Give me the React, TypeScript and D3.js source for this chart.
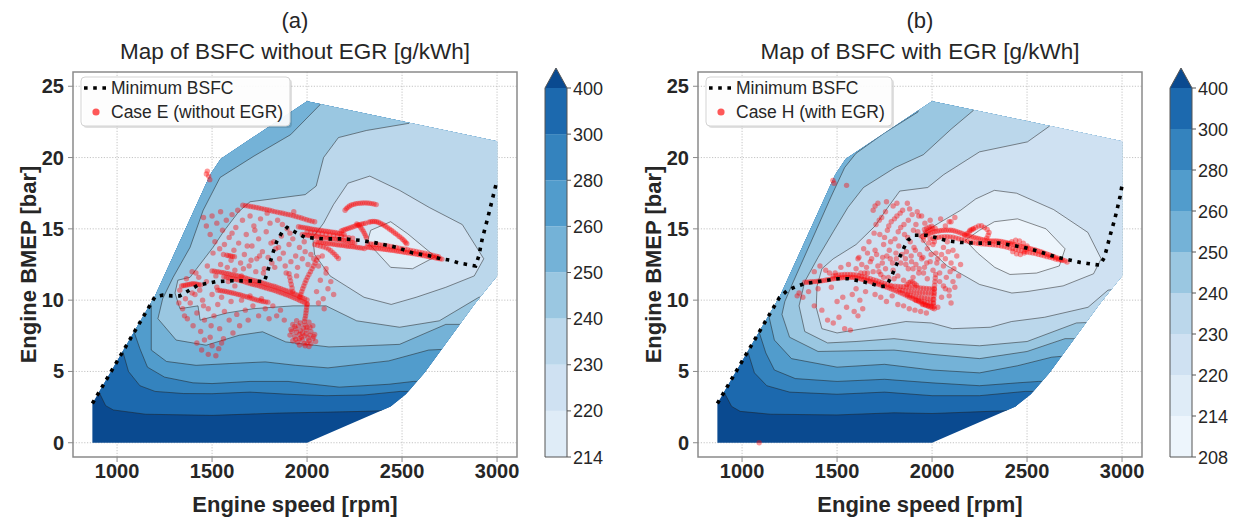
import React from "react";
import * as d3 from "d3";

type P = [number, number];

const speedTicks = [1000, 1500, 2000, 2500, 3000];
const bmepTicks = [0, 5, 10, 15, 20, 25];
const levelsA = [214, 220, 230, 240, 250, 260, 280, 300, 400];
const levelsB = [208, 214, 220, 230, 240, 250, 260, 280, 300, 400];

// operating envelope of the map [rpm, bar]
const envelope: P[] = [[870,0],[870,2.75],[1200,10.3],[1490,18.8],[1545,19.9],[2000,23.95],[3000,21.15],[3000,11.7],[2880,9.7],[2620,4.95],[2520,3.4],[2440,2.55],[2000,0]];

// ---- Map (a): regions where BSFC < level ----
const isoA400: P[] = [[700,30],[700,4.6],[860,4.6],[905,3.55],[940,2.6],[980,2.3],[1150,2.0],[1500,1.92],[1850,2.08],[2120,2.15],[2300,2.2],[2520,2.3],[3300,2.3],[3300,30]];
const isoA300: P[] = [[700,30],[700,7.5],[1000,7.5],[1030,6.4],[1060,5.0],[1120,4.0],[1200,3.6],[1350,3.45],[1500,3.44],[1700,3.55],[1900,3.4],[2100,3.3],[2300,3.35],[2490,3.6],[2700,3.6],[3300,3.6],[3300,30]];
const isoA280: P[] = [[700,30],[700,9],[1060,9],[1090,7.75],[1120,6.6],[1160,5.3],[1250,4.6],[1400,4.2],[1500,4.15],[1700,4.3],[1900,4.3],[2170,3.9],[2430,4.1],[2560,4.3],[2750,4.3],[3300,4.3],[3300,30]];
const isoA260: P[] = [[700,30],[700,10.5],[1150,10.5],[1180,9.6],[1180,6.5],[1260,5.7],[1416,5.43],[1590,5.55],[1780,5.67],[1940,5.43],[2110,5.25],[2430,5.74],[2640,6.5],[2800,6.6],[3300,6.6],[3300,30]];
const isoA250: P[] = [[2080,30],[2080,24.5],[2068,23.7],[1913,21.6],[1720,20.1],[1542,18.6],[1453,16.3],[1384,13.7],[1295,11.6],[1240,10.1],[1215,8.7],[1311,7.2],[1469,6.84],[1643,7.54],[1766,7.78],[1888,7.07],[2115,6.72],[2300,6.8],[2487,6.9],[2730,8.3],[2900,8.3],[3300,8.3],[3300,30]];
const isoA240: P[] = [[2700,30],[2650,24.5],[2536,22.4],[2313,21.9],[2165,21.4],[2087,20.0],[2048,18.0],[1990,17.4],[1700,16.9],[1640,16.2],[1560,14.8],[1505,13.7],[1384,11.6],[1320,11.4],[1305,10.5],[1331,9.4],[1426,9.6],[1437,8.6],[1578,9.1],[1716,9.4],[1926,9.6],[2100,9.6],[2261,8.55],[2487,8.1],[2696,8.55],[2904,10.2],[3050,10.5],[3300,10.5],[3300,30]];
const isoA230: P[] = [[2215,18.2],[2330,18.7],[2487,17.7],[2643,16.5],[2817,15.3],[2930,12.9],[2880,11.7],[2730,10.9],[2574,10.2],[2443,9.7],[2300,10.2],[2121,11.7],[2040,13.2],[2030,14.4],[2087,15.4],[2139,16.7]];
const isoA220: P[] = [[2320,14.2],[2335,14.9],[2440,15.5],[2530,14.65],[2675,13.05],[2555,12.2],[2440,12.3],[2330,13.9]];

// ---- Map (b) ----
const isoB400: P[] = [[700,30],[700,4.6],[860,4.6],[905,3.55],[945,2.55],[990,2.2],[1150,2.0],[1500,1.95],[1800,2.1],[2000,2.05],[2300,2.2],[2520,2.3],[3300,2.3],[3300,30]];
const isoB300: P[] = [[700,30],[700,7.5],[1000,7.5],[1030,6.4],[1065,4.9],[1130,4.0],[1250,3.55],[1500,3.4],[1750,3.55],[2000,3.3],[2250,3.3],[2490,3.6],[2700,3.6],[3300,3.6],[3300,30]];
const isoB280: P[] = [[700,30],[700,9],[1060,9],[1090,7.75],[1125,6.3],[1170,5.1],[1280,4.5],[1500,4.3],[1750,4.45],[2000,4.2],[2250,4.0],[2450,4.2],[2560,4.3],[2750,4.3],[3300,4.3],[3300,30]];
const isoB260: P[] = [[700,30],[700,10],[1110,10],[1140,8.95],[1170,7.2],[1260,5.9],[1500,5.3],[1750,5.5],[2000,5.1],[2250,4.9],[2450,5.4],[2630,6.0],[2800,6.2],[3300,6.2],[3300,30]];
const isoB250: P[] = [[1940,30],[1940,24.5],[1926,23.2],[1747,21.7],[1600,20.3],[1540,19.3],[1470,17.3],[1400,15.2],[1330,13.1],[1270,11.3],[1225,9.9],[1210,9.0],[1250,7.4],[1400,6.4],[1600,6.45],[1800,6.5],[2000,6.2],[2250,5.9],[2500,6.4],[2700,7.3],[2900,7.3],[3300,7.3],[3300,30]];
const isoB240: P[] = [[2230,30],[2230,24.5],[2217,23.3],[2101,22.0],[1954,20.2],[1806,19.3],[1639,17.9],[1557,16.5],[1480,14.8],[1400,13.0],[1330,11.3],[1300,9.6],[1330,7.8],[1450,7.0],[1600,7.1],[1800,7.3],[2000,7.0],[2250,6.8],[2500,7.1],[2760,8.4],[2950,8.5],[3300,8.5],[3300,30]];
const isoB230: P[] = [[2700,30],[2680,23.5],[2618,22.2],[2502,21.1],[2250,20.4],[2061,18.8],[1977,17.9],[1830,17.65],[1767,16.5],[1700,15.2],[1600,13.9],[1480,12.9],[1420,12.2],[1395,11.0],[1390,9.5],[1420,8.0],[1500,7.7],[1684,8.1],[1862,8.5],[1996,8.4],[2107,8.0],[2307,8.1],[2418,8.5],[2592,8.8],[2821,9.5],[2926,10.7],[3100,11],[3300,11],[3300,30]];
const isoB220: P[] = [[2328,17.7],[2445,17.5],[2640,16.35],[2820,14.75],[2890,12.9],[2850,11.85],[2690,11.0],[2500,10.6],[2420,10.5],[2250,11.1],[2080,12.4],[1990,13.5],[1935,14.5],[2010,15.2],[2150,16.3],[2230,17.1]];
const isoB214: P[] = [[2175,14.2],[2250,14.9],[2328,15.5],[2450,15.7],[2600,15.0],[2700,13.6],[2670,12.4],[2550,11.9],[2410,11.8],[2330,12.3],[2240,13.3]];

// ---- Minimum BSFC lines ----
const minA: P[] = [[870,2.75],[1200,10.25],[1241,10.35],[1290,10.3],[1330,10.3],[1381,10.7],[1425,11.05],[1521,11.3],[1608,11.36],[1700,11.35],[1775,11.3],[1790,11.9],[1805,12.6],[1820,13.3],[1840,14.1],[1870,14.8],[1895,15.1],[1947,14.7],[1989,14.4],[2084,14.3],[2189,14.3],[2279,14.2],[2368,14.0],[2473,13.7],[2558,13.3],[2647,13.1],[2704,12.9],[2753,12.8],[2800,12.6],[2887,12.4],[2904,13.1],[2922,14.3],[2948,15.6],[2974,17.0],[2995,18.15]];
const minB: P[] = [[870,2.75],[1197,10.2],[1240,10.7],[1284,10.95],[1326,11.15],[1373,11.25],[1420,11.35],[1507,11.5],[1560,11.5],[1618,11.35],[1680,11.15],[1729,10.95],[1760,11.0],[1784,11.6],[1810,12.4],[1829,13.0],[1853,13.7],[1873,14.2],[1907,14.55],[1973,14.55],[2030,14.35],[2084,14.15],[2150,14.05],[2218,14.0],[2290,14.0],[2351,14.0],[2420,13.85],[2484,13.7],[2540,13.5],[2596,13.27],[2660,13.0],[2729,12.8],[2780,12.65],[2818,12.57],[2884,12.45],[2907,13.0],[2925,13.9],[2940,14.67],[2960,15.6],[2973,16.3],[2990,17.3],[3000,18.06]];

// ---- Case E (without EGR) operating points ----
const caseE: P[] = [
[1470,18.85],[1475,19.05],[1482,18.7],[1488,18.45],
[1662,16.66],[1676,16.63],[1690,16.6],[1704,16.57],[1718,16.53],[1732,16.5],[1746,16.46],[1760,16.42],[1774,16.38],[1788,16.34],[1802,16.3],[1816,16.25],[1830,16.21],[1844,16.17],[1858,16.13],[1872,16.09],[1886,16.05],[1900,16.01],[1914,15.97],[1928,15.92],[1942,15.87],[1956,15.82],[1970,15.76],[1984,15.7],[1998,15.64],[2012,15.59],[2026,15.54],[2040,15.5],
[2200,16.3],[2207,16.42],[2215,16.52],[2224,16.6],[2234,16.67],[2245,16.72],[2256,16.76],[2268,16.79],[2280,16.8],[2292,16.81],[2304,16.82],[2316,16.81],[2328,16.8],[2340,16.77],[2352,16.74],[2364,16.7],
[1955,15.15],[1967,15.12],[1979,15.1],[1991,15.07],[2003,15.04],[2015,15.01],[2027,14.98],[2039,14.96],[2051,14.93],[2063,14.91],[2075,14.88],[2087,14.86],[2099,14.84],[2111,14.81],[2123,14.79],[2135,14.76],[2147,14.74],[2159,14.71],[2171,14.68],[2183,14.65],[2195,14.61],
[2000,14.8],[2020,14.77],[2040,14.73],[2060,14.69],[2080,14.66],[2100,14.62],[2120,14.58],[2140,14.54],[2160,14.5],[2180,14.46],[2200,14.42],[2220,14.38],[2240,14.34],
[1975,14.6],[1987,14.58],[1999,14.56],[2011,14.53],[2023,14.51],[2035,14.48],[2047,14.46],[2059,14.44],[2071,14.42],[2083,14.39],[2095,14.37],[2107,14.35],[2119,14.32],[2131,14.3],[2143,14.28],[2155,14.26],[2167,14.23],[2179,14.21],[2191,14.18],[2203,14.15],[2215,14.12],[2227,14.08],[2239,14.05],[2251,14.02],
[2050,14.1],[2062,14.07],[2074,14.05],[2086,14.03],[2098,14.0],[2110,13.98],[2122,13.96],[2134,13.94],[2146,13.91],[2158,13.89],[2170,13.87],[2182,13.85],[2194,13.83],[2206,13.8],[2218,13.78],[2230,13.76],[2242,13.74],[2254,13.72],[2266,13.69],[2278,13.67],[2290,13.65],[2302,13.62],
[2180,14.85],[2190,14.9],[2200,14.95],[2210,15.0],[2220,15.05],[2231,15.1],[2242,15.15],[2253,15.2],[2264,15.25],[2275,15.29],[2286,15.33],[2297,15.37],[2308,15.4],
[2325,15.47],[2335,15.5],[2345,15.52],[2355,15.52],[2365,15.5],[2375,15.46],[2385,15.4],[2395,15.33],[2405,15.25],[2415,15.16],[2425,15.07],[2435,14.98],[2445,14.88],[2455,14.78],[2465,14.68],[2475,14.58],[2485,14.47],[2495,14.37],[2504,14.26],[2512,14.15],[2519,14.05],[2525,13.95],
[2262,15.35],[2272,15.25],[2281,15.12],[2289,14.98],[2296,14.84],[2302,14.68],[2308,14.52],[2313,14.36],
[2040,13.9],[2055,13.85],[2070,13.8],[2085,13.74],[2100,13.68],[2113,13.58],[2125,13.46],[2136,13.33],[2146,13.2],[2156,13.06],[2165,12.92],
[2315,13.72],[2327,13.7],[2339,13.68],[2351,13.66],[2363,13.64],[2375,13.62],[2387,13.6],[2399,13.58],[2411,13.56],[2423,13.54],[2435,13.52],[2447,13.5],[2459,13.48],[2471,13.45],[2483,13.43],[2495,13.4],[2507,13.38],[2519,13.35],[2531,13.32],[2543,13.3],[2555,13.27],[2567,13.25],[2579,13.22],[2591,13.19],[2603,13.16],[2615,13.12],[2627,13.09],[2639,13.06],[2651,13.03],[2663,13.0],[2675,12.97],[2687,12.94],[2699,12.91],[2710,12.88],
[2320,13.95],[2335,13.94],[2350,13.92],[2365,13.9],[2380,13.88],[2395,13.86],[2410,13.83],[2425,13.8],[2440,13.76],[2455,13.72],[2470,13.69],[2485,13.65],[2500,13.61],[2515,13.57],[2530,13.53],[2545,13.49],[2560,13.45],[2575,13.41],[2590,13.37],[2605,13.33],[2620,13.29],[2635,13.24],[2650,13.19],[2665,13.14],[2680,13.09],[2692,13.05],
[1500,12.05],[1512,12.03],[1525,12.0],[1537,11.98],[1550,11.95],[1562,11.92],[1575,11.88],[1587,11.85],[1600,11.8],[1612,11.77],[1625,11.73],[1637,11.7],[1650,11.65],[1662,11.6],[1675,11.55],[1687,11.5],[1700,11.45],[1712,11.4],[1725,11.36],[1737,11.32],[1750,11.27],[1762,11.22],[1775,11.17],[1787,11.12],[1800,11.07],[1812,11.02],[1825,10.97],[1837,10.92],[1850,10.86],[1862,10.8],[1875,10.74],[1887,10.68],[1900,10.62],[1912,10.55],[1925,10.48],[1937,10.41],[1950,10.34],[1962,10.26],[1975,10.18],[1987,10.1],[2000,10.02],
[1562,11.64],[1575,11.6],[1587,11.57],[1600,11.52],[1612,11.49],[1625,11.45],[1637,11.42],[1650,11.37],[1662,11.32],[1675,11.27],[1687,11.22],[1700,11.17],[1712,11.12],[1725,11.08],[1737,11.04],[1750,10.99],[1762,10.94],[1775,10.89],[1787,10.84],[1800,10.79],[1812,10.74],[1825,10.69],[1837,10.64],[1850,10.58],[1862,10.52],[1875,10.46],[1887,10.4],[1900,10.34],[1912,10.27],[1925,10.2],[1937,10.13],[1950,10.06],[1962,9.98],[1975,9.9],[1987,9.83],[2000,9.75],
[1530,10.7],[1542,10.68],[1554,10.65],[1566,10.62],[1578,10.59],[1590,10.55],[1602,10.52],[1614,10.48],[1626,10.44],[1638,10.4],[1650,10.36],[1662,10.31],[1674,10.26],[1686,10.22],[1698,10.17],[1710,10.12],[1722,10.07],[1734,10.02],[1746,9.98],[1758,9.94],[1770,9.9],[1782,9.88],[1794,9.86],
[1340,11.0],[1350,11.03],[1360,11.05],[1370,11.08],[1380,11.1],[1390,11.13],[1400,11.15],[1410,11.13],[1420,11.11],[1430,11.09],[1440,11.06],
[1578,13.15],[1588,13.12],[1598,13.1],[1608,13.07],[1618,13.05],
[1962,10.2],[1967,10.4],[1972,10.6],[1977,10.8],[1983,11.0],[1989,11.2],[1995,11.4],[2002,11.6],[2010,11.8],[2018,12.0],[2026,12.2],[2034,12.4],[2042,12.6],[2050,12.8],[2058,13.0],
[1925,10.6],[1921,10.85],[1917,11.1],[1913,11.35],[1909,11.6],[1905,11.85],
[2000,9.7],[1998,9.5],[1996,9.3],[1994,9.1],[1992,8.9],[1989,8.7],[1986,8.5],
[1925,8.3],[1945,8.55],[1965,8.4],[1990,8.25],[2010,8.45],[2030,8.2],[1915,7.95],[1940,8.0],[1965,7.85],[1995,7.9],[2020,7.8],[2040,7.6],[1910,7.55],[1935,7.45],[1960,7.6],[1985,7.5],[2005,7.35],[2030,7.3],[1925,7.15],[1950,7.05],[1975,7.2],[2000,7.0],[2020,6.95],[2045,7.1],[1960,6.85],[1990,6.8],[2010,6.75],[1975,7.7],[2000,8.1],
[1935,8.15],[1955,8.2],[1980,8.05],[2015,8.1],[1945,7.75],[1970,7.4],[1995,7.65],[2015,7.55],[1940,7.25],[2010,7.15],[1960,7.3],[1985,6.95],[2035,7.45],[1920,7.8],
[1455,15.8],[1470,15.2],[1490,14.6],[1500,15.9],[1515,14.1],[1525,15.4],[1540,13.6],[1545,16.2],[1555,14.9],[1565,13.9],[1575,15.6],[1590,14.4],[1600,12.8],[1605,16.0],[1615,13.5],[1625,15.1],[1640,14.0],[1650,12.6],[1660,15.6],[1670,13.2],[1680,14.6],[1695,12.4],[1700,15.9],[1710,13.8],[1720,15.2],[1735,12.9],[1745,14.3],[1755,15.7],[1765,13.4],[1775,12.2],[1785,14.8],[1795,13.0],[1805,15.4],[1815,12.6],[1825,14.1],[1835,13.6],[1845,15.6],[1855,12.9],[1865,14.5],[1875,13.3],[1885,12.4],[1895,15.0],[1905,13.9],[1915,12.7],[1925,14.3],[1940,13.1],[1950,12.3],[1960,13.7],[1975,12.9],[1990,13.4],[2005,12.5],[2020,13.2],[2035,12.9],[2060,12.4],[2080,13.1],[2100,12.2],
[1345,9.4],[1360,10.1],[1370,8.7],[1385,9.8],[1395,12.0],[1400,8.2],[1410,10.4],[1420,9.1],[1430,11.6],[1440,7.8],[1450,10.0],[1460,8.6],[1470,11.3],[1480,9.4],[1490,7.4],[1500,10.4],[1510,8.9],[1520,11.7],[1530,9.7],[1540,8.0],[1550,10.2],[1560,7.3],[1565,9.2],[1580,12.3],[1590,8.6],[1600,9.9],[1610,7.7],[1620,11.0],[1630,9.0],[1645,8.2],[1655,10.0],[1665,12.2],[1675,9.3],[1690,8.6],[1700,10.3],[1715,9.6],[1730,12.0],[1745,8.9],[1760,10.1],[1780,9.4],[1800,8.7],[1820,9.6],[1840,8.9],[1860,9.3],[1880,8.6],
[1395,10.5],[1415,11.9],[1435,10.7],[1455,9.6],[1475,12.4],[1495,8.2],[1505,13.3],[1525,10.9],[1545,12.5],[1560,13.2],[1585,11.3],[1605,14.7],[1620,12.1],[1635,16.3],[1655,11.7],[1685,13.8],[1705,12.8],[1725,14.9],[1750,13.1],[1770,11.9],[1790,16.1],[1810,14.0],[1830,12.3],[1850,13.7],[1870,15.3],[1890,11.9],[1910,14.7],[1930,16.2],[1945,11.7],[1985,14.1],[1365,11.5],[1330,10.7],[1325,9.8],[1355,8.9],
[1420,7.0],[1445,6.5],[1460,7.2],[1480,6.2],[1500,6.8],[1520,6.1],[1535,6.6],[1550,7.0],
[2050,10.6],[2070,11.4],[2085,10.1],[2100,11.9],[2110,10.8],[2125,11.3],[2140,10.4],[2060,9.8],[2090,9.4]
];

// ---- Case H (with EGR) operating points ----
const caseH: P[] = [
[1478,18.4],[1484,18.2],[1550,18.05],[1090,0.0],
[1330,11.25],[1342,11.26],[1354,11.28],[1366,11.29],[1378,11.3],[1390,11.31],[1402,11.33],[1414,11.35],[1426,11.37],[1438,11.4],[1450,11.43],[1462,11.46],[1474,11.49],[1486,11.51],[1498,11.53],[1510,11.55],[1522,11.57],[1534,11.58],[1546,11.6],[1558,11.6],[1570,11.6],[1582,11.6],[1594,11.58],[1606,11.55],[1618,11.51],[1630,11.47],[1642,11.43],[1654,11.38],[1666,11.34],[1678,11.29],[1690,11.24],[1702,11.19],[1714,11.13],[1726,11.08],[1738,11.02],[1750,10.97],[1762,10.91],[1774,10.85],[1786,10.79],[1798,10.72],[1810,10.66],[1822,10.59],[1834,10.52],[1846,10.45],[1858,10.37],[1870,10.29],[1882,10.21],[1894,10.14],[1906,10.06],[1918,9.98],[1930,9.9],[1942,9.82],[1954,9.75],[1966,9.67],[1978,9.59],[1990,9.52],[2002,9.45],[2012,9.4],
[1480,11.7],[1495,11.73],[1510,11.76],[1525,11.78],[1540,11.8],[1555,11.8],[1570,11.8],[1585,11.79],[1600,11.76],[1615,11.72],[1630,11.67],[1645,11.62],[1660,11.56],[1675,11.5],[1690,11.44],[1705,11.38],[1720,11.31],[1735,11.24],[1750,11.17],[1765,11.1],[1780,11.03],
[1790,10.98],[1805,10.97],[1820,10.96],[1835,10.95],[1850,10.94],[1865,10.93],[1880,10.92],[1895,10.91],[1910,10.9],[1925,10.88],[1940,10.86],[1955,10.84],[1970,10.82],[1985,10.8],[2000,10.78],[2012,10.76],
[1830,10.72],[1845,10.68],[1860,10.65],[1875,10.62],[1890,10.6],[1905,10.58],[1920,10.56],[1935,10.54],[1950,10.52],[1965,10.5],[1980,10.48],[1995,10.46],[2010,10.44],
[1870,10.38],[1885,10.33],[1900,10.28],[1915,10.25],[1930,10.22],[1945,10.19],[1960,10.16],[1975,10.13],[1990,10.1],[2005,10.07],
[1915,10.0],[1930,9.96],[1945,9.92],[1960,9.88],[1975,9.84],[1990,9.8],[2005,9.76],
[1950,9.7],[1965,9.65],[1980,9.6],[1995,9.58],[2010,9.55],
[2008,9.8],[2009,10.05],[2010,10.3],[2011,10.55],[2012,10.8],[2013,11.05],[2015,11.3],[2017,11.55],[2019,11.8],
[1868,11.1],[1878,11.22],[1888,11.3],[1898,11.25],[1908,11.15],[1918,11.05],
[1960,14.95],[1972,15.05],[1985,15.12],[1998,15.18],[1965,14.75],[1978,14.85],[1990,14.95],[2003,15.02],[2016,15.05],
[1955,14.45],[1967,14.55],[1979,14.63],[1991,14.7],[2003,14.76],[2015,14.8],[2027,14.84],[2039,14.87],[2051,14.89],[2063,14.9],[2075,14.91],[2087,14.91],[2099,14.9],[2111,14.88],[2123,14.84],[2135,14.79],[2147,14.73],[2159,14.67],[2171,14.6],[2183,14.54],[2195,14.49],[2207,14.44],[2219,14.4],[2231,14.36],[2243,14.32],[2255,14.28],[2267,14.24],[2279,14.21],[2291,14.18],[2303,14.16],[2315,14.15],[2327,14.15],[2339,14.15],[2351,14.14],[2363,14.12],[2375,14.09],[2387,14.05],[2399,14.01],[2411,13.97],[2423,13.93],[2435,13.89],[2447,13.85],[2459,13.81],[2471,13.76],[2483,13.72],[2495,13.68],[2507,13.64],[2519,13.6],[2531,13.56],[2543,13.52],[2555,13.47],[2567,13.42],[2579,13.36],[2591,13.3],[2603,13.24],[2615,13.18],[2627,13.12],[2639,13.06],[2651,13.0],[2663,12.94],[2675,12.88],[2687,12.82],[2699,12.76],[2711,12.68],
[1990,14.3],[2005,14.34],[2020,14.38],[2035,14.41],[2050,14.44],[2065,14.45],[2080,14.45],[2095,14.44],[2110,14.41],[2125,14.37],[2140,14.31],[2155,14.26],[2170,14.2],[2185,14.14],[2200,14.09],[2215,14.04],[2230,14.0],[2245,13.97],[2260,13.95],[2275,13.94],[2290,13.92],[2305,13.9],[2320,13.88],[2335,13.86],[2350,13.84],[2365,13.8],[2380,13.76],[2395,13.71],[2410,13.66],[2425,13.62],[2440,13.57],[2455,13.52],[2470,13.47],[2485,13.42],[2500,13.38],[2515,13.34],[2530,13.3],[2545,13.26],[2560,13.21],[2575,13.16],[2590,13.11],[2605,13.05],[2620,13.0],[2635,12.95],[2650,12.89],[2665,12.84],[2680,12.79],
[2173,14.56],[2185,14.68],[2196,14.8],[2207,14.92],[2218,15.0],
[2200,14.9],[2215,15.0],[2230,15.1],[2245,15.2],[2260,15.22],[2275,15.1],[2290,14.95],[2300,14.75],[2295,14.55],[2288,14.35],
[2400,13.95],[2420,14.1],[2440,14.2],[2460,14.15],[2480,14.0],[2500,13.8],[2495,13.55],[2485,13.3],[2465,13.2],[2445,13.25],[2425,13.4],
[1690,16.3],[1705,15.3],[1715,16.8],[1725,14.6],[1735,15.8],[1745,13.9],[1755,16.2],[1765,14.9],[1775,13.5],[1785,15.5],[1795,16.6],[1805,14.3],[1815,15.9],[1825,13.8],[1835,15.1],[1845,16.3],[1855,14.6],[1865,13.4],[1875,15.6],[1885,14.1],[1895,16.0],[1905,13.7],[1915,15.3],[1925,14.8],[1935,13.2],[1945,15.9],[1955,14.2],[1975,13.6],[1990,15.6],[2005,13.9],[2020,13.3],[2045,15.7],[2060,13.7],[2080,14.1],[2090,15.5],[2110,13.5],[2120,15.8],
[1610,12.9],[1625,11.9],[1640,13.6],[1655,12.3],[1668,14.1],[1682,12.9],[1695,14.7],[1708,13.2],[1722,15.6],[1738,12.6],[1750,14.4],[1762,13.1],[1772,15.2],[1782,14.1],[1792,12.6],[1802,15.7],[1812,12.9],[1822,14.8],[1832,16.1],[1842,13.2],[1852,15.3],[1862,12.5],[1872,14.4],[1882,16.4],[1892,12.7],[1902,14.9],[1912,13.5],[1922,16.2],[1932,12.2],[1942,14.5],[1952,13.0],[1962,15.4],[1972,12.6],[1982,14.0],[1995,13.2],[2012,14.1],[2030,12.9],[2050,13.2],[2070,12.9],[2085,13.4],[2100,12.6],[2115,12.2],[2130,13.1],[2140,11.7],[2150,12.5],[1760,16.9],[1700,16.6],[1815,16.8],[1870,16.8],[1930,15.9],[2070,15.2],[2100,15.5],[1660,11.9],[1720,12.0],[1745,11.6],[1800,11.5],[1900,12.2],[1955,11.9],[2040,11.3],[2060,11.0],[2090,10.7],
[1600,12.2],[1615,13.0],[1630,12.5],[1645,11.9],[1660,13.3],[1675,12.7],[1690,12.0],[1700,13.5],[1715,12.4],[1730,11.8],[1740,13.0],[1755,12.2],[1770,11.6],[1780,12.9],[1795,12.1],[1810,13.3],[1820,11.7],[1835,12.6],[1850,11.4],[1860,12.9],[1875,12.2],[1890,13.1],[1900,11.6],[1915,12.5],[1930,11.9],[1945,12.9],[1960,12.3],[1975,11.5],[1990,12.7],[2005,12.1],[2025,12.6],[2040,11.9],[2060,12.4],[2075,11.6],[2095,12.0],[2110,11.3],
[1650,10.6],[1700,10.4],[1730,10.2],[1760,9.9],[1790,10.3],[1820,9.7],[1850,9.6],[1880,9.4],[1910,9.3],[1940,9.2],[1970,9.1],[2030,9.5],[2050,10.2],[2070,10.8],[2090,10.3],[2100,9.8],[2120,10.9],
[1290,10.3],[1300,10.5],[1320,10.2],[1350,10.6],[1380,9.6],[1400,10.8],[1420,9.3],[1440,12.1],[1450,8.6],[1470,10.9],[1480,8.4],[1490,11.9],[1500,9.9],[1510,8.8],[1520,12.3],[1530,10.2],[1540,8.0],[1550,9.5],[1560,12.5],[1570,7.9],[1580,10.4],[1590,9.2],[1600,10.8],[1610,8.9],[1620,10.0],[1635,9.4],[1410,12.4],[1380,12.0],[1460,11.9]
];

const bandStopsA = [0.12, 0.2, 0.28, 0.38, 0.48, 0.58, 0.68, 0.78];
const bandStopsB = [0.05, 0.12, 0.2, 0.28, 0.38, 0.48, 0.58, 0.68, 0.78];
const overStop = 0.9;

const regionsA = [
  { level: 400, pts: isoA400 }, { level: 300, pts: isoA300 }, { level: 280, pts: isoA280 },
  { level: 260, pts: isoA260 }, { level: 250, pts: isoA250 }, { level: 240, pts: isoA240 },
  { level: 230, pts: isoA230 }, { level: 220, pts: isoA220 },
];
const regionsB = [
  { level: 400, pts: isoB400 }, { level: 300, pts: isoB300 }, { level: 280, pts: isoB280 },
  { level: 260, pts: isoB260 }, { level: 250, pts: isoB250 }, { level: 240, pts: isoB240 },
  { level: 230, pts: isoB230 }, { level: 220, pts: isoB220 }, { level: 214, pts: isoB214 },
];

const FONT = "'Liberation Sans', Arial, Helvetica, sans-serif";

function Panel(props: any) {
  const { L, letter, title, levels, stops, regions, points, minLine, caseLabel, legendW } = props;
  const R = L + 444, T = 72, B = 457;
  const x = d3.scaleLinear().domain([768, 3105]).range([L, R]);
  const y = d3.scaleLinear().domain([-1, 26]).range([B, T]);
  const line = d3.line<P>().x((d) => x(d[0])).y((d) => y(d[1]));
  const closed = (pts: P[]) => line(pts) + "Z";
  const colors = stops.map((t: number) => d3.interpolateBlues(t));
  const over = d3.interpolateBlues(overStop);
  const clip = `env-${letter}`;
  const cbL = R + 28, cbW = 22, cbT = 88, cbB = 457, cbTip = 68;
  const n = levels.length - 1;
  const cbY = d3.scaleLinear().domain([0, n]).range([cbB, cbT]);
  const cx = (L + R) / 2;
  const axisCol = "#8a8a8a";
  const txt = "#262626";
  return (
    <g fontFamily={FONT}>
      <defs>
        <clipPath id={clip}><path d={closed(envelope)} /></clipPath>
      </defs>
      {speedTicks.map((v) => (
        <line key={"gx" + v} x1={x(v)} x2={x(v)} y1={T} y2={B} stroke="#b5b5b5" strokeWidth={0.8} strokeDasharray="1.2 1.6" />
      ))}
      {bmepTicks.map((v) => (
        <line key={"gy" + v} x1={L} x2={R} y1={y(v)} y2={y(v)} stroke="#b5b5b5" strokeWidth={0.8} strokeDasharray="1.2 1.6" />
      ))}
      <path d={closed(envelope)} fill={over} />
      <g clipPath={`url(#${clip})`}>
        {regions.map((r: any) => (
          <path key={"f" + r.level} d={closed(r.pts)} fill={colors[levels.indexOf(r.level) - 1]} />
        ))}
        {regions.map((r: any) => (
          <path key={"s" + r.level} d={closed(r.pts)} fill="none" stroke="#1f1f1f" strokeWidth={0.6} strokeOpacity={0.85} />
        ))}
      </g>
      {points.map((p: P, i: number) => (
        <circle key={"p" + i} cx={x(p[0])} cy={y(p[1])} r={2.7} fill="#ff0000" fillOpacity={0.4} />
      ))}
      <path d={line(minLine) as string} fill="none" stroke="#000" strokeWidth={3.6} strokeDasharray="3.6 5.6" />
      <rect x={L} y={T} width={R - L} height={B - T} fill="none" stroke={axisCol} strokeWidth={1.5} />
      {bmepTicks.map((v) => (
        <g key={"ty" + v}>
          <line x1={L - 5} x2={L} y1={y(v)} y2={y(v)} stroke={axisCol} strokeWidth={1} />
          <text x={L - 9} y={y(v) + 7} textAnchor="end" fontSize={20} fontWeight="bold" fill={txt}>{v}</text>
        </g>
      ))}
      {speedTicks.map((v) => (
        <g key={"tx" + v}>
          <line x1={x(v)} x2={x(v)} y1={B} y2={B + 5} stroke={axisCol} strokeWidth={1} />
          <text x={x(v)} y={478} textAnchor="middle" fontSize={20} fontWeight="bold" fill={txt}>{v}</text>
        </g>
      ))}
      <text x={cx} y={512} textAnchor="middle" fontSize={22} fontWeight="bold" fill={txt}>Engine speed [rpm]</text>
      <text transform={`translate(${L - 37},${(T + B) / 2}) rotate(-90)`} textAnchor="middle" fontSize={22} fontWeight="bold" fill={txt}>Engine BMEP [bar]</text>
      <text x={cx} y={28} textAnchor="middle" fontSize={22} fill={txt}>{`(${letter})`}</text>
      <text x={cx} y={59} textAnchor="middle" fontSize={22.5} fill={txt}>{title}</text>
      <g>
        <rect x={L + 10} y={79} width={legendW} height={49} rx={4} fill="#000" fillOpacity={0.12} />
        <rect x={L + 8} y={77} width={legendW} height={49} rx={4} fill="#fff" fillOpacity={0.92} stroke="#d3d3d3" strokeWidth={1} />
        <line x1={L + 11} x2={L + 36} y1={88} y2={88} stroke="#000" strokeWidth={3.6} strokeDasharray="3.6 5.6" />
        <text x={L + 38} y={94} fontSize={17.5} fill={txt}>Minimum BSFC</text>
        <circle cx={L + 23} cy={112} r={3.6} fill="#ff0000" fillOpacity={0.65} />
        <text x={L + 38} y={118} fontSize={17.5} fill={txt}>{caseLabel}</text>
      </g>
      <g>
        {d3.range(n).map((i) => (
          <rect key={"cb" + i} x={cbL} y={cbY(i + 1)} width={cbW} height={cbY(i) - cbY(i + 1)} fill={colors[i]} />
        ))}
        <path d={`M${cbL},${cbT}L${cbL + cbW / 2},${cbTip}L${cbL + cbW},${cbT}Z`} fill={over} />
        <path d={`M${cbL},${cbB}L${cbL},${cbT}L${cbL + cbW / 2},${cbTip}L${cbL + cbW},${cbT}L${cbL + cbW},${cbB}Z`} fill="none" stroke="#555" strokeWidth={1} />
        {levels.map((v: number, i: number) => (
          <g key={"cbt" + v}>
            <line x1={cbL + cbW} x2={cbL + cbW + 4} y1={cbY(i)} y2={cbY(i)} stroke="#555" strokeWidth={1} />
            <text x={cbL + cbW + 6} y={cbY(i) + 6.5} fontSize={18} fill={txt}>{v}</text>
          </g>
        ))}
      </g>
    </g>
  );
}

export default function App() {
  return (
    <svg width={1247} height={521} style={{ position: "absolute", left: 0, top: 0, background: "#fff" }}>
      <Panel L={73} letter="a" title="Map of BSFC without EGR [g/kWh]" levels={levelsA} stops={bandStopsA}
        regions={regionsA} points={caseE} minLine={minA} caseLabel="Case E (without EGR)" legendW={209} />
      <Panel L={698} letter="b" title="Map of BSFC with EGR [g/kWh]" levels={levelsB} stops={bandStopsB}
        regions={regionsB} points={caseH} minLine={minB} caseLabel="Case H (with EGR)" legendW={186} />
    </svg>
  );
}
